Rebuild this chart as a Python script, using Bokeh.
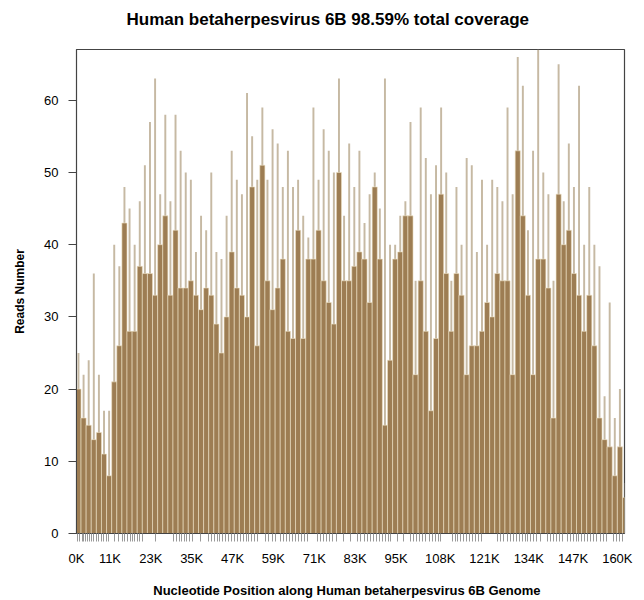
import numpy as np
from bokeh.plotting import figure
from bokeh.models import FixedTicker, Range1d
from bokeh.embed import file_html
from bokeh.resources import INLINE

# ---- data ----
bin_start_k = 1.0      # genome position (K) where the first bin begins
bin_width_k = 1.5      # bin width in K
# coverage body (dark brown) per bin
brown = [20, 16, 15, 13, 14, 11, 8, 21, 26, 43, 28, 28, 37, 36, 36, 33, 40, 44, 33, 42,
         34, 34, 35, 33, 31, 34, 33,
         29, 25, 30, 39, 34, 33, 30, 48, 26, 51, 35, 31, 34, 38, 28, 27, 42, 27, 38, 38,
         42, 35, 32, 29, 50, 35, 35,
         37, 39, 38, 32, 48, 38, 15, 24, 38, 39, 44, 44, 22, 35, 28, 17, 27, 47, 36, 28,
         36, 33, 22, 26, 26, 28, 32,
         30, 36, 35, 35, 22, 53, 44, 33, 22, 38, 38, 34, 16, 47, 40, 42, 36, 33, 28, 33,
         26, 16, 13, 12, 8, 12, 5]
# peak reads per bin (light tan spikes)
tan = [25, 22, 24, 36, 22, 17, 17, 40, 37, 48, 45, 40, 46, 51, 57, 63, 47, 58, 46, 58,
       53, 50, 49, 39, 44, 42, 50,
       39, 38, 44, 53, 49, 47, 61, 55, 49, 59, 49, 56, 54, 48, 53, 48, 49, 44, 41, 59,
       49, 56, 53, 50, 63, 44, 54,
       48, 53, 43, 47, 50, 45, 63, 40, 40, 44, 46, 57, 35, 59, 52, 47, 51, 59, 50, 35,
       48, 40, 52, 51, 39, 49, 40,
       49, 48, 46, 59, 47, 66, 62, 42, 53, 67, 50, 47, 35, 65, 46, 54, 48, 62, 40, 48,
       40, 37, 19, 32, 16, 20, 7]
tick_k = [0, 11, 23, 35, 47, 59, 71, 83, 95, 108, 121, 134, 147, 160]
tick_labels = ["0K", "11K", "23K", "35K", "47K", "59K", "71K", "83K", "95K",
               "108K", "121K", "134K", "147K", "160K"]
y_ticks = [0, 10, 20, 30, 40, 50, 60]
rug_k = [1.5, 2.1, 2.8, 3.3, 3.9, 4.4, 5.0, 5.7, 6.3, 7.0, 7.6, 8.4, 9.2, 9.9, 10.7,
         12.4, 13.6, 14.7, 15.4, 16.1, 16.9, 17.5, 18.2, 19.0, 19.7, 20.5,
         24.5, 29.8, 30.6, 31.3, 32.0, 32.8, 33.5, 34.3, 35.2, 37.6,
         39.8, 40.9, 41.7, 42.5, 43.3, 44.1, 45.0, 45.8, 46.7, 47.5, 48.4, 49.3, 50.1,
         51.0, 51.8, 52.6, 53.4, 54.2,
         56.8, 57.7, 58.6, 59.5, 61.2, 62.0, 62.9, 63.7, 64.6, 65.4, 66.3, 67.2, 68.1, 68.9,
         72.0, 72.9, 73.8, 74.6, 75.5, 76.4, 77.6, 79.6, 81.6,
         83.8, 84.7, 85.6, 86.5, 87.4, 88.3, 89.2, 90.1, 91.0, 91.9, 92.7, 93.4, 95.4, 97.2,
         99.3, 100.2, 101.1, 102.0, 102.9, 103.8, 104.7, 105.6, 106.5, 107.4, 108.2,
         111.6, 112.4, 113.2, 114.0, 114.8, 115.7, 116.6, 117.5, 118.4, 119.3, 120.2,
         124.8, 125.7, 126.5, 127.7, 128.5, 129.4, 130.3, 131.2, 132.0, 132.9, 133.7, 134.5,
         135.4, 136.4, 137.4, 139.6, 140.4, 141.3, 142.2, 143.1, 144.0,
         145.3, 146.2, 147.0, 147.9, 148.7, 149.6, 150.4, 151.3, 152.1,
         153.1, 154.0, 155.0, 156.0, 156.9, 158.9, 159.7, 160.6, 161.4]
title_text = "Human betaherpesvirus 6B 98.59% total coverage"

x_start, x_end = 1.17, 162.1
y_end = 67.03
centers = bin_start_k + bin_width_k * (np.arange(len(brown)) + 0.5)

FONT = "Liberation Sans"

p = figure(width=644, height=600, output_backend="svg", toolbar_location=None,
           x_range=Range1d(x_start, x_end), y_range=Range1d(0, y_end),
           min_border_left=76, min_border_right=20, min_border_top=49,
           min_border_bottom=65,
           title=title_text + "\n ")
p.title.text_font = FONT
p.title.text_font_size = "17px"
p.title.text_font_style = "bold"
p.title.align = "left"
p.title.offset = 50
p.title.text_color = "#000000"
p.title.vertical_align = "top"
p.title.standoff = 0

p.background_fill_color = "white"
p.border_fill_color = "white"
p.outline_line_color = "#444444"
p.outline_line_width = 1.2
p.xgrid.visible = False
p.ygrid.visible = False

# spikes (peak reads)
p.vbar(x=centers, width=bin_width_k * 0.38, top=tan, bottom=0,
       fill_color="#c6b9a3", line_color=None)
# coverage body
p.vbar(x=centers, width=bin_width_k, top=brown, bottom=0,
       fill_color="#9d7d53", line_color="#efe2c6", line_width=0.6)

# x axis: major ticks carry the labels, minor ticks form the rug
tick_pos = [max(t, x_start) for t in tick_k]
xa = p.xaxis[0]
xa.ticker = FixedTicker(ticks=tick_pos, minor_ticks=rug_k)
xa.major_label_overrides = {tp: lab for tp, lab in zip(tick_pos, tick_labels)}
xa.major_tick_out = 0
xa.major_tick_in = 0
xa.minor_tick_out = 8
xa.minor_tick_in = 0
xa.minor_tick_line_color = "#999999"
xa.minor_tick_line_width = 1
xa.axis_line_color = "#444444"
xa.major_label_standoff = 9
xa.major_label_text_font = FONT
xa.major_label_text_font_size = "13px"
xa.major_label_text_color = "#000000"
xa.axis_label = "Nucleotide Position along  Human betaherpesvirus 6B  Genome"
xa.axis_label_text_font = FONT
xa.axis_label_text_font_size = "13px"
xa.axis_label_text_font_style = "bold"
xa.axis_label_text_color = "#000000"
xa.axis_label_standoff = 14

ya = p.yaxis[0]
ya.ticker = FixedTicker(ticks=y_ticks)
ya.minor_tick_line_color = None
ya.major_tick_out = 8
ya.major_tick_in = 0
ya.major_tick_line_color = "#444444"
ya.axis_line_color = "#444444"
ya.major_label_standoff = 10
ya.major_label_orientation = "horizontal"
ya.major_label_text_font = FONT
ya.major_label_text_font_size = "13px"
ya.major_label_text_color = "#000000"
ya.axis_label = "Reads Number"
ya.axis_label_text_font = FONT
ya.axis_label_text_font_size = "12px"
ya.axis_label_text_font_style = "bold"
ya.axis_label_text_color = "#000000"
ya.axis_label_standoff = 14

open("out.html", "w").write(file_html(p, INLINE))
